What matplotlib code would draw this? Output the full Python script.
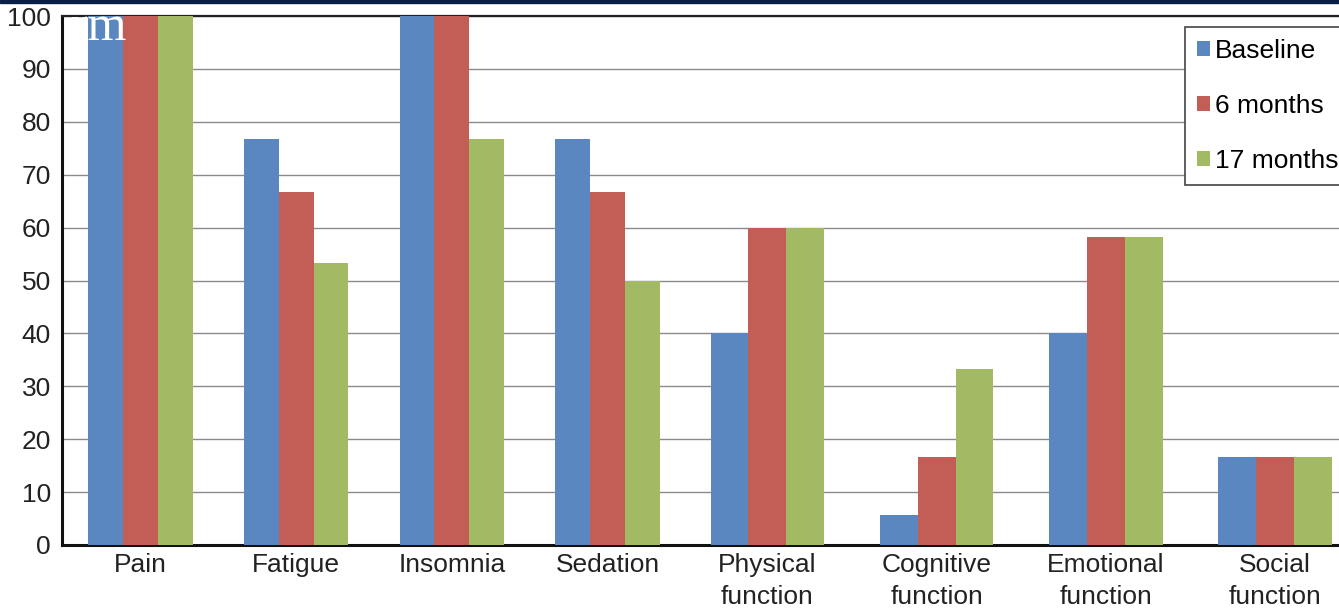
import matplotlib
matplotlib.use("Agg")
import matplotlib.pyplot as plt
import numpy as np
from matplotlib.patches import Rectangle

categories = ["Pain", "Fatigue", "Insomnia", "Sedation", "Physical\nfunction",
              "Cognitive\nfunction", "Emotional\nfunction", "Social\nfunction"]
series_names = ["Baseline", "6 months", "17 months"]
baseline = [100, 76.7, 100, 76.7, 40, 5.6, 40, 16.7]
six_months = [100, 66.7, 100, 66.7, 60, 16.7, 58.3, 16.7]
seventeen_months = [100, 53.3, 76.7, 50, 60, 33.3, 58.3, 16.7]
yticks = [0, 10, 20, 30, 40, 50, 60, 70, 80, 90, 100]

colors = ["#5A87BF", "#C35E56", "#A3BA64"]
plt.rcParams['font.family'] = ['Liberation Sans', 'DejaVu Sans']

W, H = 1339, 613
fig = plt.figure(figsize=(W / 100, H / 100), dpi=100)
ax = fig.add_axes([62 / W, 1 - 545 / H, 1285 / W, (545 - 16) / H])

# the source image is stretched a little more on its right-hand part
BRK, K = 3.7, 1.087


def fwd(v):
    v = np.asarray(v, dtype=float)
    return np.where(v < BRK, v, BRK + (v - BRK) * K)


def inv(u):
    u = np.asarray(u, dtype=float)
    return np.where(u < BRK, u, BRK + (u - BRK) / K)


ax.set_xscale('function', functions=(fwd, inv))

x = np.arange(len(categories))
bw = 0.224
for k, vals in enumerate([baseline, six_months, seventeen_months]):
    ax.bar(x + (k - 1) * bw, vals, width=bw, color=colors[k], label=series_names[k],
           zorder=3, linewidth=0)

ax.set_xlim(-0.504, 7.425)
ax.set_ylim(0, 100)
ax.set_yticks(yticks)
ax.set_yticklabels([str(t) for t in yticks], fontsize=19, color="#222222")
ax.set_xticks(x)
ax.set_xticklabels(categories, fontsize=19, color="#222222", linespacing=1.39)
ax.xaxis.set_minor_locator(matplotlib.ticker.NullLocator())
ax.tick_params(axis='y', length=0, pad=8)
ax.tick_params(axis='x', length=0, pad=6)
ax.yaxis.grid(True, color="#8a8a8a", linewidth=1.0, zorder=0)
for s in ["left", "bottom"]:
    ax.spines[s].set_linewidth(2.2)
    ax.spines[s].set_color("#111111")
ax.spines["top"].set_linewidth(1.6)
ax.spines["top"].set_color("#222222")
ax.spines["right"].set_visible(False)

leg = ax.legend(loc="upper left", bbox_to_anchor=((1185 - 62) / 1285, 1 - (27 - 16) / 529),
                fontsize=19, frameon=True, fancybox=False, edgecolor="#444444",
                handlelength=0.5, handleheight=0.5, handletextpad=0.2,
                labelspacing=1.17, borderpad=0.45, borderaxespad=0)
leg.get_frame().set_linewidth(1.2)
leg.get_frame().set_alpha(1)

# dark band at the very top
fig.patches.append(Rectangle((0, 1 - 3 / H), 1, 3 / H, transform=fig.transFigure,
                             color="#0B1E48", zorder=10))
# watermark fragment
fig.text(71 / W, 1 - 40 / H, "rm", color="white", fontsize=36,
         family=["Liberation Serif", "DejaVu Serif"], zorder=20)

fig.savefig("out.png", dpi=100)
